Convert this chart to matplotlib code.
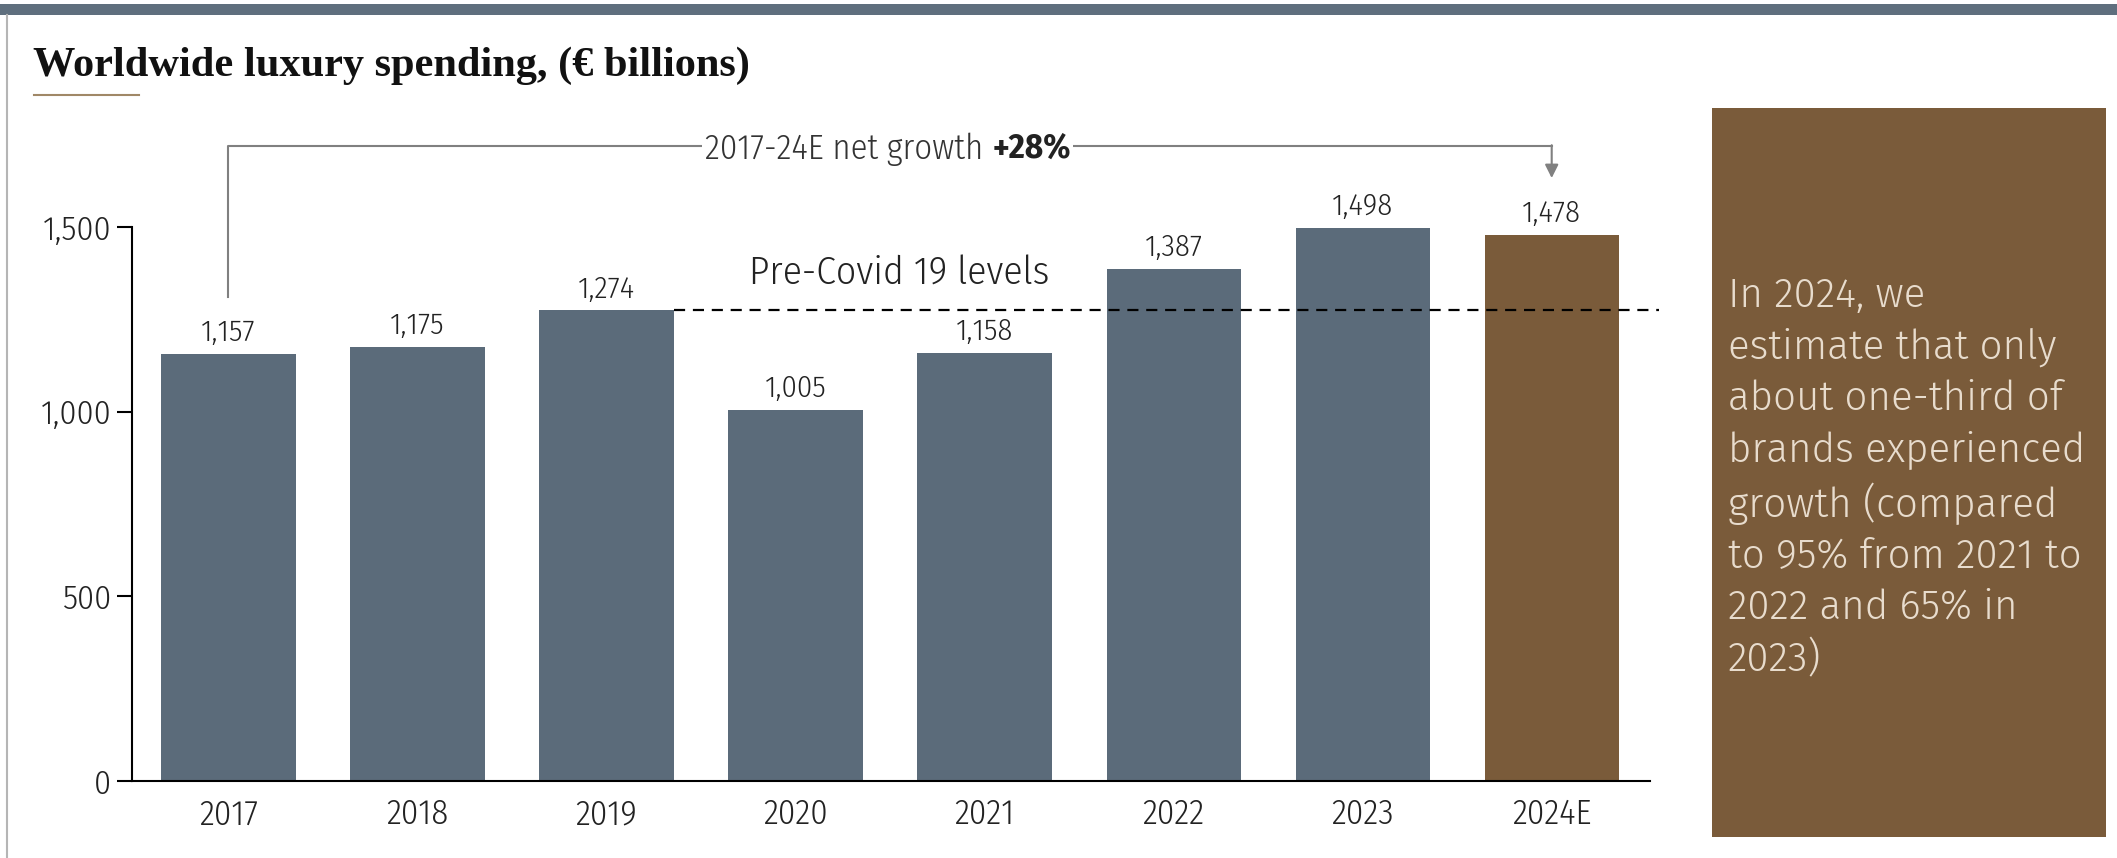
import matplotlib.pyplot as plt
from matplotlib.patches import Rectangle
from matplotlib.lines import Line2D

# luxury spending, EUR billions
years = ['2017', '2018', '2019', '2020', '2021', '2022', '2023', '2024E']
spending = [1157, 1175, 1274, 1005, 1158, 1387, 1498, 1478]
y_ticks = [0, 500, 1000, 1500]
pre_covid_level = 1274
growth_label = '2017-24E net growth '
growth_value = '+28%'
note = ('In 2024, we\nestimate that only\nabout one-third of\nbrands experienced\n'
        'growth (compared\nto 95% from 2021 to\n2022 and 65% in\n2023)')

SLATE = '#5b6b7a'
BROWN = '#7a5b3a'
COND = ['Fira Sans Condensed', 'DejaVu Sans']

W, H = 2117, 858
fig = plt.figure(figsize=(W / 100, H / 100), dpi=100)
fig.patch.set_facecolor('white')

# page furniture: top band, left rule, title and its underline
fig.add_artist(Rectangle((0, 1 - 15 / H), 1, 11 / H, transform=fig.transFigure,
                         facecolor='#5f6f7e', edgecolor='none'))
fig.add_artist(Line2D([7 / W, 7 / W], [0, 1 - 15 / H], transform=fig.transFigure,
                      color='#b5b5b5', lw=1.5))
fig.text(33 / W, 1 - 66 / H, 'Worldwide luxury spending, (€ billions)',
         family='Liberation Serif', weight='bold', fontsize=30.5, va='center',
         color='#111111')
fig.add_artist(Line2D([34 / W, 139 / W], [1 - 95 / H, 1 - 95 / H],
                      transform=fig.transFigure, color='#a08867', lw=1.5))

ax = fig.add_axes([132 / W, 77 / H, 1518 / W, 665 / H])
x = list(range(len(years)))
colors = [SLATE] * (len(years) - 1) + [BROWN]
ax.bar(x, spending, width=0.71, color=colors)

for xi, v in zip(x, spending):
    ax.annotate(f'{v:,}', (xi, v), xytext=(0, 5), textcoords='offset points',
                ha='center', va='bottom', fontsize=22, family=COND, weight=300,
                color='#222222')

ax.set_xlim(-0.51, 7.52)
ax.set_ylim(0, 1800)
ax.set_xticks(x)
ax.set_xticklabels(years, family=COND, weight=300, fontsize=25, color='#222222')
ax.set_yticks(y_ticks)
ax.set_yticklabels([f'{t:,}' for t in y_ticks], family=COND, weight=300, fontsize=24.5,
                   color='#222222')
ax.tick_params(axis='x', length=0, pad=12)
ax.tick_params(axis='y', length=11, width=1.5, pad=4)
for s in ['top', 'right']:
    ax.spines[s].set_visible(False)
ax.spines['left'].set_bounds(0, 1500)
ax.spines['left'].set_linewidth(1.5)
ax.spines['bottom'].set_linewidth(1.5)

# pre-Covid reference line from the 2019 bar onwards
ax.plot([2 + 0.355, 7.57], [pre_covid_level, pre_covid_level], ls=(0, (5, 3.5)),
        color='black', lw=1.6, clip_on=False)
ax.text(3.55, pre_covid_level + 100, 'Pre-Covid 19 levels', ha='center', va='center',
        fontsize=28.5, family=COND, weight=300, color='#222222')

# growth bracket from 2017 to 2024E
top = 1719
ax.plot([0, 0, 7], [1310, top, top], color='#808080', lw=1.5, clip_on=False)
ax.annotate('', xy=(7, 1632), xytext=(7, top + 2),
            arrowprops=dict(arrowstyle='-|>', color='#808080', lw=1.5,
                            mutation_scale=20, shrinkA=0, shrinkB=0),
            annotation_clip=False)
ax.text(4.04, top - 8, growth_label, ha='right', va='center', fontsize=25, family=COND,
        weight=300, color='#333333', bbox=dict(facecolor='white', edgecolor='none', pad=2))
ax.text(4.04, top - 8, growth_value, ha='left', va='center', fontsize=25, family=COND,
        weight='bold', color='#222222', bbox=dict(facecolor='white', edgecolor='none', pad=2))

# side note panel
fig.add_artist(Rectangle((1712 / W, 1 - 837 / H), 394 / W, 729 / H,
                         transform=fig.transFigure, facecolor=BROWN, edgecolor='none'))
fig.text(1728 / W, 1 - 276 / H, note, ha='left', va='top', fontsize=29,
         family=['Fira Sans', 'DejaVu Sans'], weight=300, color='#e8dccd', linespacing=1.39)

fig.savefig('out.png', dpi=100)
